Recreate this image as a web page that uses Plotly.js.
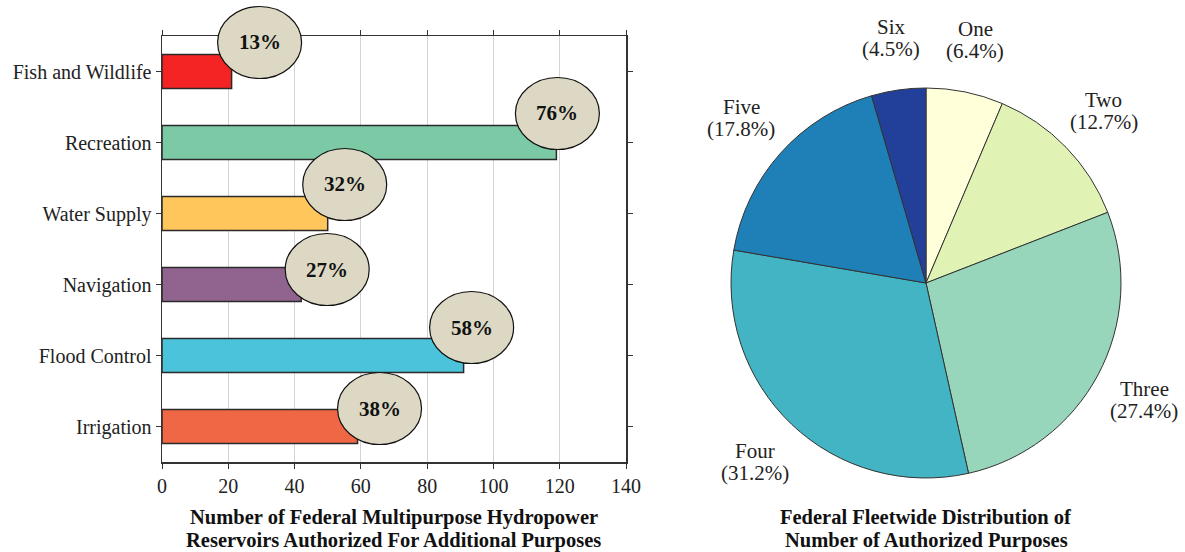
<!DOCTYPE html>
<html>
<head>
<meta charset="utf-8">
<script src="https://cdn.plot.ly/plotly-3.0.1.min.js"></script>
<style>html,body{margin:0;padding:0;background:#fff;}#chart{width:1185px;height:552px;}</style>
</head>
<body>
<div id="chart"></div>
<script>
// ---- data ----
const purposes = ['Fish and Wildlife', 'Recreation', 'Water Supply', 'Navigation', 'Flood Control', 'Irrigation'];
const reservoirCounts = [21, 119, 50, 42, 91, 59];
const purposeShares = ['13%', '76%', '32%', '27%', '58%', '38%'];

const purposeCountNames = ['One', 'Two', 'Three', 'Four', 'Five', 'Six'];
const purposeCountPct = [6.4, 12.7, 27.4, 31.2, 17.8, 4.5];

const xTickVals = [0, 20, 40, 60, 80, 100, 120, 140];

const barTitleLines = ['Number of Federal Multipurpose Hydropower', 'Reservoirs Authorized For Additional Purposes'];
const pieTitleLines = ['Federal Fleetwide Distribution of', 'Number of Authorized Purposes'];

// ---- styles ----
const barColors = ['#F42424', '#7BC9A5', '#FEC65B', '#91648F', '#4BC3DA', '#F06746'];
const pieColors = ['#FFFFDA', '#E0F3B4', '#97D6BA', '#43B4C3', '#1F80B7', '#22409A'];
// bubble offsets (pixels) from the bar end / bar centre
const bubbleDx = [28, 1, 17, 26, 8, 22];
const bubbleDy = [29, 29, 29, 15, 28, 18];
const bubbleW = 84, bubbleH = 72;

const W = 1185, H = 552;
const serif = 'Liberation Serif, Times New Roman, serif';
const xDom = [162 / W, 626 / W];
const yDom = [(H - 462) / H, (H - 36) / H];
const pieDom = {x: [731 / W, 1121 / W], y: [(H - 478) / H, (H - 88) / H]};

const shapes = [];
const annotations = [];
const nCat = purposes.length;
purposes.forEach((p, i) => {
  const yFrac = 1 - (i + 0.5) / nCat; // position inside y domain
  shapes.push({
    type: 'circle', layer: 'above',
    xref: 'x', yref: 'y domain',
    xsizemode: 'pixel', ysizemode: 'pixel',
    xanchor: reservoirCounts[i], yanchor: yFrac,
    x0: bubbleDx[i] - bubbleW / 2, x1: bubbleDx[i] + bubbleW / 2,
    y0: bubbleDy[i] - bubbleH / 2, y1: bubbleDy[i] + bubbleH / 2,
    fillcolor: '#DCD8C4', line: {color: '#111', width: 1.2}
  });
  annotations.push({
    xref: 'x', yref: 'y', x: reservoirCounts[i], y: p,
    xshift: bubbleDx[i], yshift: bubbleDy[i],
    text: '<b>' + purposeShares[i] + '</b>', showarrow: false,
    font: {family: serif, size: 21, color: '#111'}
  });
});

// pie labels placed along each slice's middle angle
const pieCx = (pieDom.x[0] + pieDom.x[1]) / 2 * W;
const pieCy = H - (pieDom.y[0] + pieDom.y[1]) / 2 * H;
const pieR = (pieDom.x[1] - pieDom.x[0]) * W / 2;
const total = purposeCountPct.reduce((a, b) => a + b, 0);
let cum = 0;
purposeCountNames.forEach((n, i) => {
  const mid = (cum + purposeCountPct[i] / 2) / total * 2 * Math.PI;
  cum += purposeCountPct[i];
  const r = pieR * 1.27;
  const px = pieCx + r * Math.sin(mid);
  const py = pieCy - r * Math.cos(mid);
  const lines = [n, '(' + purposeCountPct[i].toFixed(1) + '%)'];
  lines.forEach((t, k) => {
    annotations.push({
      xref: 'paper', yref: 'paper', x: px / W, y: 1 - py / H,
      xanchor: 'center', yanchor: 'middle', showarrow: false,
      yshift: k === 0 ? 11 : -11,
      text: t,
      font: {family: serif, size: 21, color: '#222'}
    });
  });
});

function addTitle(lines, cx) {
  lines.forEach((t, k) => {
    annotations.push({
      xref: 'paper', yref: 'paper', x: cx, y: 1 - (517 + k * 23) / H,
      xanchor: 'center', yanchor: 'middle', showarrow: false,
      text: '<b>' + t + '</b>',
      font: {family: serif, size: 20.5, color: '#111'}
    });
  });
}
addTitle(barTitleLines, (xDom[0] + xDom[1]) / 2);
addTitle(pieTitleLines, pieCx / W);

const traces = [
  {
    type: 'bar', orientation: 'h',
    y: purposes, x: reservoirCounts,
    width: 0.48,
    marker: {color: barColors, line: {color: '#2a2a2a', width: 1.5}},
    hoverinfo: 'skip'
  },
  {
    type: 'pie',
    labels: purposeCountNames, values: purposeCountPct,
    sort: false, direction: 'clockwise', rotation: 0,
    domain: pieDom,
    marker: {colors: pieColors, line: {color: '#333', width: 1}},
    textinfo: 'none', hoverinfo: 'skip', showlegend: false
  }
];

const layout = {
  width: W, height: H,
  margin: {l: 0, r: 0, t: 0, b: 0},
  paper_bgcolor: '#fff', plot_bgcolor: '#fff',
  showlegend: false,
  font: {family: serif, color: '#222'},
  xaxis: {
    domain: xDom, range: [0, 140], tickvals: xTickVals,
    showgrid: true, gridcolor: '#d4d4d4', gridwidth: 1,
    zeroline: false,
    showline: true, linecolor: '#333', linewidth: 1.5, mirror: 'ticks',
    ticks: 'outside', ticklen: 5, tickcolor: '#333', tickwidth: 1,
    tickfont: {family: serif, size: 20, color: '#222'},
    automargin: false, fixedrange: true
  },
  yaxis: {
    domain: yDom, type: 'category',
    categoryorder: 'array', categoryarray: purposes,
    range: [nCat - 0.5, -0.5],
    showgrid: false, zeroline: false,
    showline: true, linecolor: '#333', linewidth: 1.5, mirror: 'ticks',
    ticks: 'outside', ticklen: 5, tickcolor: '#333', tickwidth: 1,
    tickfont: {family: serif, size: 20, color: '#222'},
    automargin: false, fixedrange: true
  },
  shapes: shapes,
  annotations: annotations,
  hovermode: false
};

Plotly.newPlot('chart', traces, layout, {displayModeBar: false, staticPlot: true});
</script>
</body>
</html>
